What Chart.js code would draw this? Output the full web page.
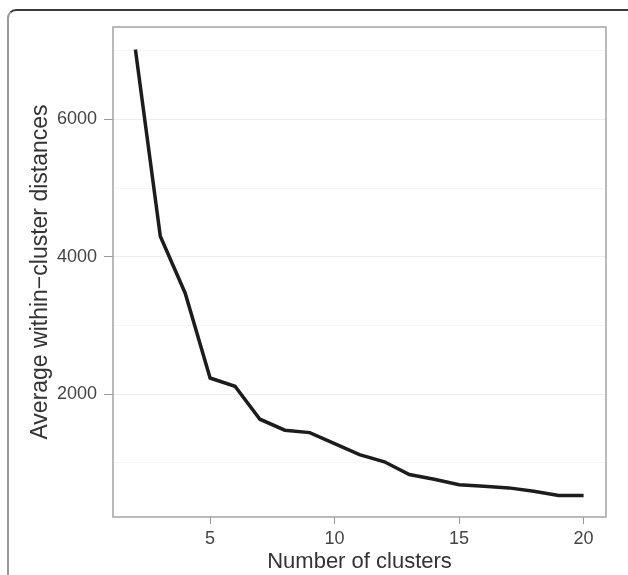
<!DOCTYPE html>
<html>
<head>
<meta charset="utf-8">
<script src="https://cdn.jsdelivr.net/npm/chart.js@4.4.1/dist/chart.umd.min.js"></script>
<style>
  html, body { margin: 0; padding: 0; background: #fff; overflow: hidden; }
  .frame {
    position: absolute; left: 7px; top: 9px; width: 700px; height: 700px;
    border-top: 2px solid #3a3a3a; border-left: 2px solid #9a9a9a;
    border-top-left-radius: 9px;
  }
  #chart { position: absolute; left: 0; top: 0; }
</style>
</head>
<body>
<div class="frame"></div>
<canvas id="chart" width="628" height="575"></canvas>
<script>
const clusters = [2, 3, 4, 5, 6, 7, 8, 9, 10, 11, 12, 13, 14, 15, 16, 17, 18, 19, 20];
const avgDistances = [7020, 4300, 3470, 2235, 2115, 1635, 1475, 1440, 1280, 1120, 1015, 830, 760, 680, 660, 635, 585, 525, 525];
const xTicks = [5, 10, 15, 20];
const yTicks = [2000, 4000, 6000];
const yMinorGrid = [1000, 3000, 5000, 7000];

const fontFamily = "'Liberation Sans', Arial, sans-serif";

// ggplot-style panel border on all four sides
const panelBorder = {
  id: 'panelBorder',
  afterDatasetsDraw(chart) {
    const { ctx, chartArea: a } = chart;
    ctx.save();
    ctx.strokeStyle = '#a3a3a3';
    ctx.lineWidth = 1.5;
    ctx.strokeRect(a.left, a.top, a.right - a.left, a.bottom - a.top);
    ctx.restore();
  },
};

const ctx = document.getElementById('chart').getContext('2d');
new Chart(ctx, {
  type: 'line',
  data: {
    datasets: [{
      data: clusters.map((c, i) => ({ x: c, y: avgDistances[i] })),
      borderColor: '#1c1c1c',
      borderWidth: 3.5,
      pointRadius: 0,
      tension: 0,
      fill: false,
    }],
  },
  options: {
    responsive: false,
    animation: false,
    layout: { padding: { left: 0, top: 27, right: 22, bottom: 0 } },
    plugins: { legend: { display: false }, tooltip: { enabled: false } },
    scales: {
      x: {
        type: 'linear',
        min: 1.1,
        max: 20.9,
        afterBuildTicks: scale => { scale.ticks = xTicks.map(v => ({ value: v })); },
        afterFit: scale => { scale.height = 58; },
        border: { display: false },
        grid: { drawOnChartArea: false, tickLength: 7, tickColor: '#999', tickWidth: 1 },
        ticks: {
          autoSkip: false, maxRotation: 0, padding: 4, color: '#444',
          font: { family: fontFamily, size: 18 },
          callback: v => String(v),
        },
        title: {
          display: true, text: 'Number of clusters', color: '#333',
          font: { family: fontFamily, size: 22 }, padding: { top: 0, bottom: 0 },
        },
      },
      y: {
        min: 211,
        max: 7347,
        afterBuildTicks: scale => {
          scale.ticks = yMinorGrid.concat(yTicks).sort((a, b) => a - b).map(v => ({ value: v }));
        },
        afterFit: scale => { scale.width = 113; },
        border: { display: false },
        grid: {
          color: c => (yTicks.includes(c.tick && c.tick.value) ? '#ededed' : '#f6f6f6'),
          tickColor: c => (yTicks.includes(c.tick && c.tick.value) ? '#999' : 'rgba(0,0,0,0)'),
          tickLength: 9,
          lineWidth: 1,
        },
        ticks: {
          autoSkip: false, padding: 7, color: '#444',
          font: { family: fontFamily, size: 18 },
          callback: v => (yTicks.includes(v) ? String(v) : ''),
        },
        title: {
          display: true, text: 'Average within\u2212cluster distances', color: '#333',
          font: { family: fontFamily, size: 23 }, padding: { top: 27, bottom: 0 },
        },
      },
    },
  },
  plugins: [panelBorder],
});
</script>
</body>
</html>
